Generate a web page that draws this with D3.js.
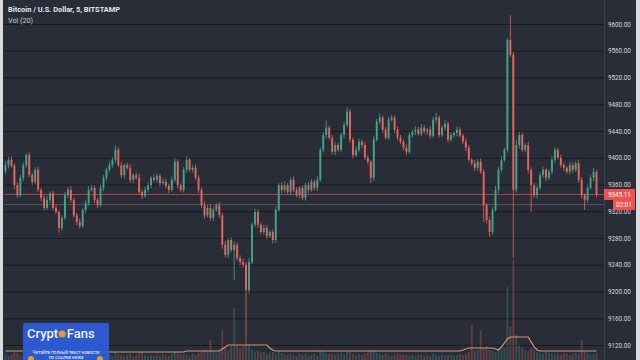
<!DOCTYPE html>
<html><head><meta charset="utf-8">
<script src="https://cdn.jsdelivr.net/npm/d3@7/dist/d3.min.js"></script>
<style>html,body{margin:0;padding:0;background:#282c36;overflow:hidden}svg{display:block}</style>
</head><body>
<svg id="c" width="640" height="360"></svg>
<script>
// ---- data ----
const firstOpen = 9380;
const closes = [9389,9397,9388,9359,9344,9370,9389,9404,9374,9364,
 9382,9352,9340,9325,9337,9347,9325,9319,9295,9310,
 9344,9352,9337,9314,9304,9298,9322,9332,9352,9355,
 9337,9329,9355,9370,9382,9389,9397,9412,9389,9374,
 9389,9385,9367,9374,9370,9349,9343,9352,9359,9370,
 9367,9373,9362,9364,9358,9352,9367,9394,9359,9352,
 9382,9397,9382,9385,9370,9352,9329,9314,9325,9310,
 9322,9329,9314,9270,9255,9277,9262,9270,9250,9244,
 9240,9202,9244,9300,9319,9300,9289,9295,9283,9289,
 9277,9322,9359,9352,9359,9349,9367,9352,9344,9355,
 9340,9359,9352,9364,9355,9367,9412,9434,9445,9430,
 9409,9419,9412,9434,9449,9469,9427,9404,9412,9424,
 9419,9400,9394,9370,9427,9454,9460,9442,9430,9457,
 9460,9442,9430,9424,9415,9409,9434,9439,9442,9436,
 9445,9439,9442,9433,9457,9460,9434,9445,9451,9427,
 9434,9437,9442,9433,9424,9415,9397,9392,9385,9394,
 9379,9329,9307,9289,9322,9352,9382,9397,9412,9576,
 9554,9352,9419,9434,9412,9419,9382,9359,9344,9355,
 9374,9382,9370,9379,9397,9412,9400,9389,9385,9379,
 9389,9382,9392,9367,9344,9337,9355,9370,9379,9345.11];
const wickUp = [6,4,5,3,4,5,4,3,5,4, 4,5,3,4,6,3,4,5,3,4, 5,4,6,3,4,5,3,4,6,5, 4,3,5,4,3,5,4,7,4,5,
 3,4,5,3,4,6,3,5,4,3, 5,4,3,5,4,3,5,6,4,3, 4,5,3,4,5,4,3,6,4,5, 4,3,5,4,6,3,4,5,3,4,
 5,4,6,3,5,4,3,5,4,3, 4,5,3,4,6,3,4,5,4,3, 4,3,5,4,3,6,4,5,11,3, 4,5,3,4,5,7,4,3,5,4,
 3,5,4,3,5,4,7,3,4,5, 4,3,5,4,3,5,4,3,5,4, 5,4,3,5,4,7,3,4,5,3, 4,3,5,4,3,5,4,3,5,4,
 5,4,3,5,4,6,4,5,3,3, 37,4,8,5,4,3,5,4,3,5, 4,5,3,4,6,4,3,5,4,3, 5,4,3,5,4,3,5,4,6,3];
const wickDown = [4,5,3,6,4,3,5,4,3,5, 4,3,5,4,3,5,4,3,7,4, 3,5,4,3,5,4,3,5,4,3, 5,4,3,5,4,3,4,5,3,4,
 5,3,4,5,3,4,5,3,4,5, 3,4,5,3,4,5,3,4,5,3, 4,5,3,4,3,5,4,5,3,4, 5,3,4,6,4,5,3,45,4,5,
 4,67,5,3,4,5,3,4,5,3, 5,4,3,5,4,3,5,4,3,5, 3,4,5,3,4,5,3,4,5,3, 4,5,3,4,5,3,4,5,3,4,
 5,3,4,8,5,3,4,5,3,4, 3,5,4,3,4,5,3,4,5,3, 4,3,5,4,3,5,4,3,5,4, 3,4,5,3,4,5,3,4,5,4,
 3,25,5,7,4,3,5,4,3,4, 3,102,4,5,3,4,5,40,4,5, 3,4,5,3,4,5,3,4,5,3, 4,5,3,4,5,15,4,3,5,4];
const volumes = [6,4,5,8,7,5,4,6,5,4, 5,7,6,8,5,4,6,7,9,6, 5,4,6,7,8,6,5,4,6,5, 4,6,5,4,5,6,4,8,6,5,
 4,5,6,4,5,7,8,5,4,5, 4,5,4,6,5,4,6,9,7,5, 6,5,4,6,5,7,8,10,9,20, 8,7,9,30,12,10,14,52,15,12,
 14,25,16,10,8,9,7,8,6,7, 8,6,9,7,6,5,6,5,4,6, 5,6,4,5,6,4,9,10,7,6, 6,5,6,7,6,9,8,6,5,6,
 5,6,7,9,10,7,6,5,6,5, 4,5,6,5,6,5,4,5,4,5, 5,4,5,4,6,5,4,5,4,5, 5,4,5,6,5,6,8,35,9,10,
 30,12,14,10,9,8,9,10,12,73, 33,100,25,15,12,10,9,12,10,8, 7,6,8,7,6,5,6,5,7,6, 5,6,7,6,20,8,6,5,6,7];
const volMA = [9,9,9,9,9,9,9,9,9,9, 9,9,9,9,9,9,9,9,9,9, 9,8,8,8,8,8,8,8,8,8, 8,8,8,8,8,8,8,8,8,8,
 8,8,8,8,8,8,8,8,8,8, 8,8,8,8,8,8,8,8,8,8, 8,9,9,9,9,9,9,9,9,9, 9,9,9,11,13,15,15,15,15,15,
 15,15,15,15,15,15,15,15,15,12, 10,9,9,9,9,9,9,9,9,9, 9,9,9,9,9,9,9,9,9,9, 9,9,9,9,9,9,9,9,9,9,
 9,9,9,9,9,9,9,9,9,9, 9,9,9,9,9,9,9,9,9,9, 9,9,9,9,9,9,9,9,9,9, 9,9,9,9,10,11,12,12,12,12,
 12,12,12,12,12,11,10,13,17,21, 23,23,23,23,23,23,23,18,13,10, 9,9,9,9,9,9,9,9,9,9, 9,9,9,9,9,9,9,9,9,9];
const priceTicks = [9120,9160,9200,9240,9280,9320,9360,9400,9440,9480,9520,9560,9600];
const timeGridIdx = [15, 39.6, 64.2, 88.9, 113.5, 138.2, 162.8, 188];
const lastPrice = 9345.11;
const countdown = "02:01";
const refLine = 9330;
const title = "Bitcoin / U.S. Dollar, 5, BITSTAMP";
const volLabel = "Vol (20)";

// ---- build ----
const N = closes.length;
const candles = closes.map((c, i) => {
  const o = i === 0 ? firstOpen : closes[i - 1];
  return {i, o, c, h: Math.max(o, c) + wickUp[i], l: Math.min(o, c) - wickDown[i], v: volumes[i]};
});

const svg = d3.select("#c");
const W = 640, H = 360, plotL = 4, plotR = 604;
const x = d3.scaleLinear().domain([0, N - 1]).range([5.5, 596.5]);
const y = d3.scaleLinear().domain([9120, 9600]).range([345, 24]);
const vy = d3.scaleLinear().domain([0, 100]).range([360, 260]);
const UP = "#45a38a", DN = "#e8645c";
const bw = 1.9;
const FONT = "Roboto, sans-serif";

svg.append("rect").attr("width", W).attr("height", H).attr("fill", "#292d38");

svg.append("defs").append("clipPath").attr("id", "plot")
  .append("rect").attr("x", plotL).attr("y", 0).attr("width", plotR - plotL).attr("height", H);

// grid
const gridH = svg.append("g").attr("transform", `translate(${plotL},0)`)
  .call(d3.axisRight(y).tickValues(priceTicks).tickSize(plotR - plotL).tickFormat(""));
gridH.select(".domain").remove();
gridH.selectAll("line").attr("stroke", "#181b22").attr("stroke-width", 1.1);

const gridV = svg.append("g").attr("transform", `translate(0,${H})`).attr("clip-path", "url(#plot)")
  .call(d3.axisTop(x).tickValues(timeGridIdx).tickSize(H).tickFormat(""));
gridV.select(".domain").remove();
gridV.selectAll("line").attr("stroke", "#181b22").attr("stroke-width", 1.1);

const plot = svg.append("g").attr("clip-path", "url(#plot)");

// volume
plot.append("g").selectAll("rect").data(candles).join("rect")
  .attr("x", d => x(d.i) - bw / 2).attr("width", bw)
  .attr("y", d => vy(d.v)).attr("height", d => vy(0) - vy(d.v))
  .attr("fill", d => d.c >= d.o ? UP : DN).attr("opacity", 0.3);

// reference lines
plot.append("line").attr("x1", plotL).attr("x2", plotR)
  .attr("y1", y(refLine)).attr("y2", y(refLine))
  .attr("stroke", "rgba(225,160,160,0.3)").attr("stroke-width", 1);
plot.append("line").attr("x1", plotL).attr("x2", plotR)
  .attr("y1", y(lastPrice)).attr("y2", y(lastPrice))
  .attr("stroke", "#cf4a45").attr("stroke-width", 1).attr("opacity", 0.8);

// candles
const cg = plot.append("g");
cg.selectAll("line").data(candles).join("line")
  .attr("x1", d => x(d.i)).attr("x2", d => x(d.i))
  .attr("y1", d => y(d.h)).attr("y2", d => y(d.l))
  .attr("stroke", d => d.c >= d.o ? UP : DN).attr("stroke-width", 0.8);
cg.selectAll("rect").data(candles).join("rect")
  .attr("x", d => x(d.i) - bw / 2).attr("width", bw)
  .attr("y", d => y(Math.max(d.o, d.c)))
  .attr("height", d => Math.max(1, Math.abs(y(d.o) - y(d.c))))
  .attr("fill", d => d.c >= d.o ? UP : DN);

// volume MA
plot.append("path").datum(volMA)
  .attr("d", d3.line().x((d, i) => x(i)).y(d => vy(d)))
  .attr("fill", "none").attr("stroke", "#d39a6b").attr("stroke-width", 1.2);

// axis separator
svg.append("line").attr("x1", plotR + 0.5).attr("x2", plotR + 0.5).attr("y1", 0).attr("y2", H)
  .attr("stroke", "#3c404b").attr("stroke-width", 1);

// price axis
const ax = svg.append("g").attr("transform", `translate(608,0)`)
  .call(d3.axisRight(y).tickValues(priceTicks).tickFormat(d3.format(".2f")).tickSize(0).tickPadding(0));
ax.select(".domain").remove();
ax.selectAll("text").attr("fill", "#d4d6dc").style("font-family", FONT).style("font-size", "6.3px");
// the countdown box covers the upper half of the label under it; nudge that label just below it
ax.selectAll(".tick").filter(d => Math.abs(y(d) - (y(lastPrice) + 11)) < 4)
  .select("text").attr("dy", "0.95em");

// last price labels
const ly = y(lastPrice);
svg.append("rect").attr("x", 604).attr("y", ly - 5.5).attr("width", 31).attr("height", 11).attr("fill", "#ef5350");
svg.append("text").attr("x", 608).attr("y", ly).attr("dy", "0.34em").text(d3.format(".2f")(lastPrice))
  .attr("fill", "#fff").style("font-family", FONT).style("font-size", "6.3px");
svg.append("rect").attr("x", 613).attr("y", ly + 5.5).attr("width", 22).attr("height", 10).attr("fill", "#ef5350");
svg.append("text").attr("x", 616).attr("y", ly + 10.5).attr("dy", "0.34em").text(countdown)
  .attr("fill", "#fff").style("font-family", FONT).style("font-size", "6.3px");

// title
svg.append("text").attr("x", 8).attr("y", 12).text(title)
  .attr("fill", "#e6e8ec").style("font-family", FONT).style("font-size", "7.4px").style("font-weight", "bold");
svg.append("text").attr("x", 8).attr("y", 23).text(volLabel)
  .attr("fill", "#c4c7ce").style("font-family", FONT).style("font-size", "7.2px");

// logo
const lg = svg.append("g").attr("opacity", 0.93);
lg.append("rect").attr("x", 23).attr("y", 323).attr("width", 86).attr("height", 40).attr("rx", 1.5).attr("fill", "#2d5cdc");
const t1 = lg.append("text").attr("x", 27).attr("y", 338).text("Crypt")
  .attr("fill", "#fff").style("font-family", FONT).style("font-size", "13px").style("font-weight", 500);
const w1 = t1.node().getComputedTextLength();
lg.append("circle").attr("cx", 27 + w1 + 4).attr("cy", 334).attr("r", 3.6).attr("fill", "#f5a524");
lg.append("text").attr("x", 27 + w1 + 8.5).attr("y", 338).text("Fans")
  .attr("fill", "#fff").style("font-family", FONT).style("font-size", "13px").style("font-weight", 500);
lg.append("text").attr("x", 66).attr("y", 353.5).attr("text-anchor", "middle").text("Читайте полный текст новости")
  .attr("fill", "#fff").style("font-family", FONT).style("font-size", "4.6px");
lg.append("text").attr("x", 66).attr("y", 359).attr("text-anchor", "middle").text("по ссылке ниже")
  .attr("fill", "#fff").style("font-family", FONT).style("font-size", "4.6px");
lg.append("circle").attr("cx", 31).attr("cy", 359).attr("r", 3).attr("fill", "#f5a524");
lg.append("circle").attr("cx", 100).attr("cy", 359).attr("r", 3).attr("fill", "#f5a524");

// frame strips
svg.append("rect").attr("x", 0).attr("y", 0).attr("width", 3).attr("height", H).attr("fill", "#d9dadc");
svg.append("rect").attr("x", 636).attr("y", 0).attr("width", 4).attr("height", H).attr("fill", "#d9dadc");
</script>
</body></html>
